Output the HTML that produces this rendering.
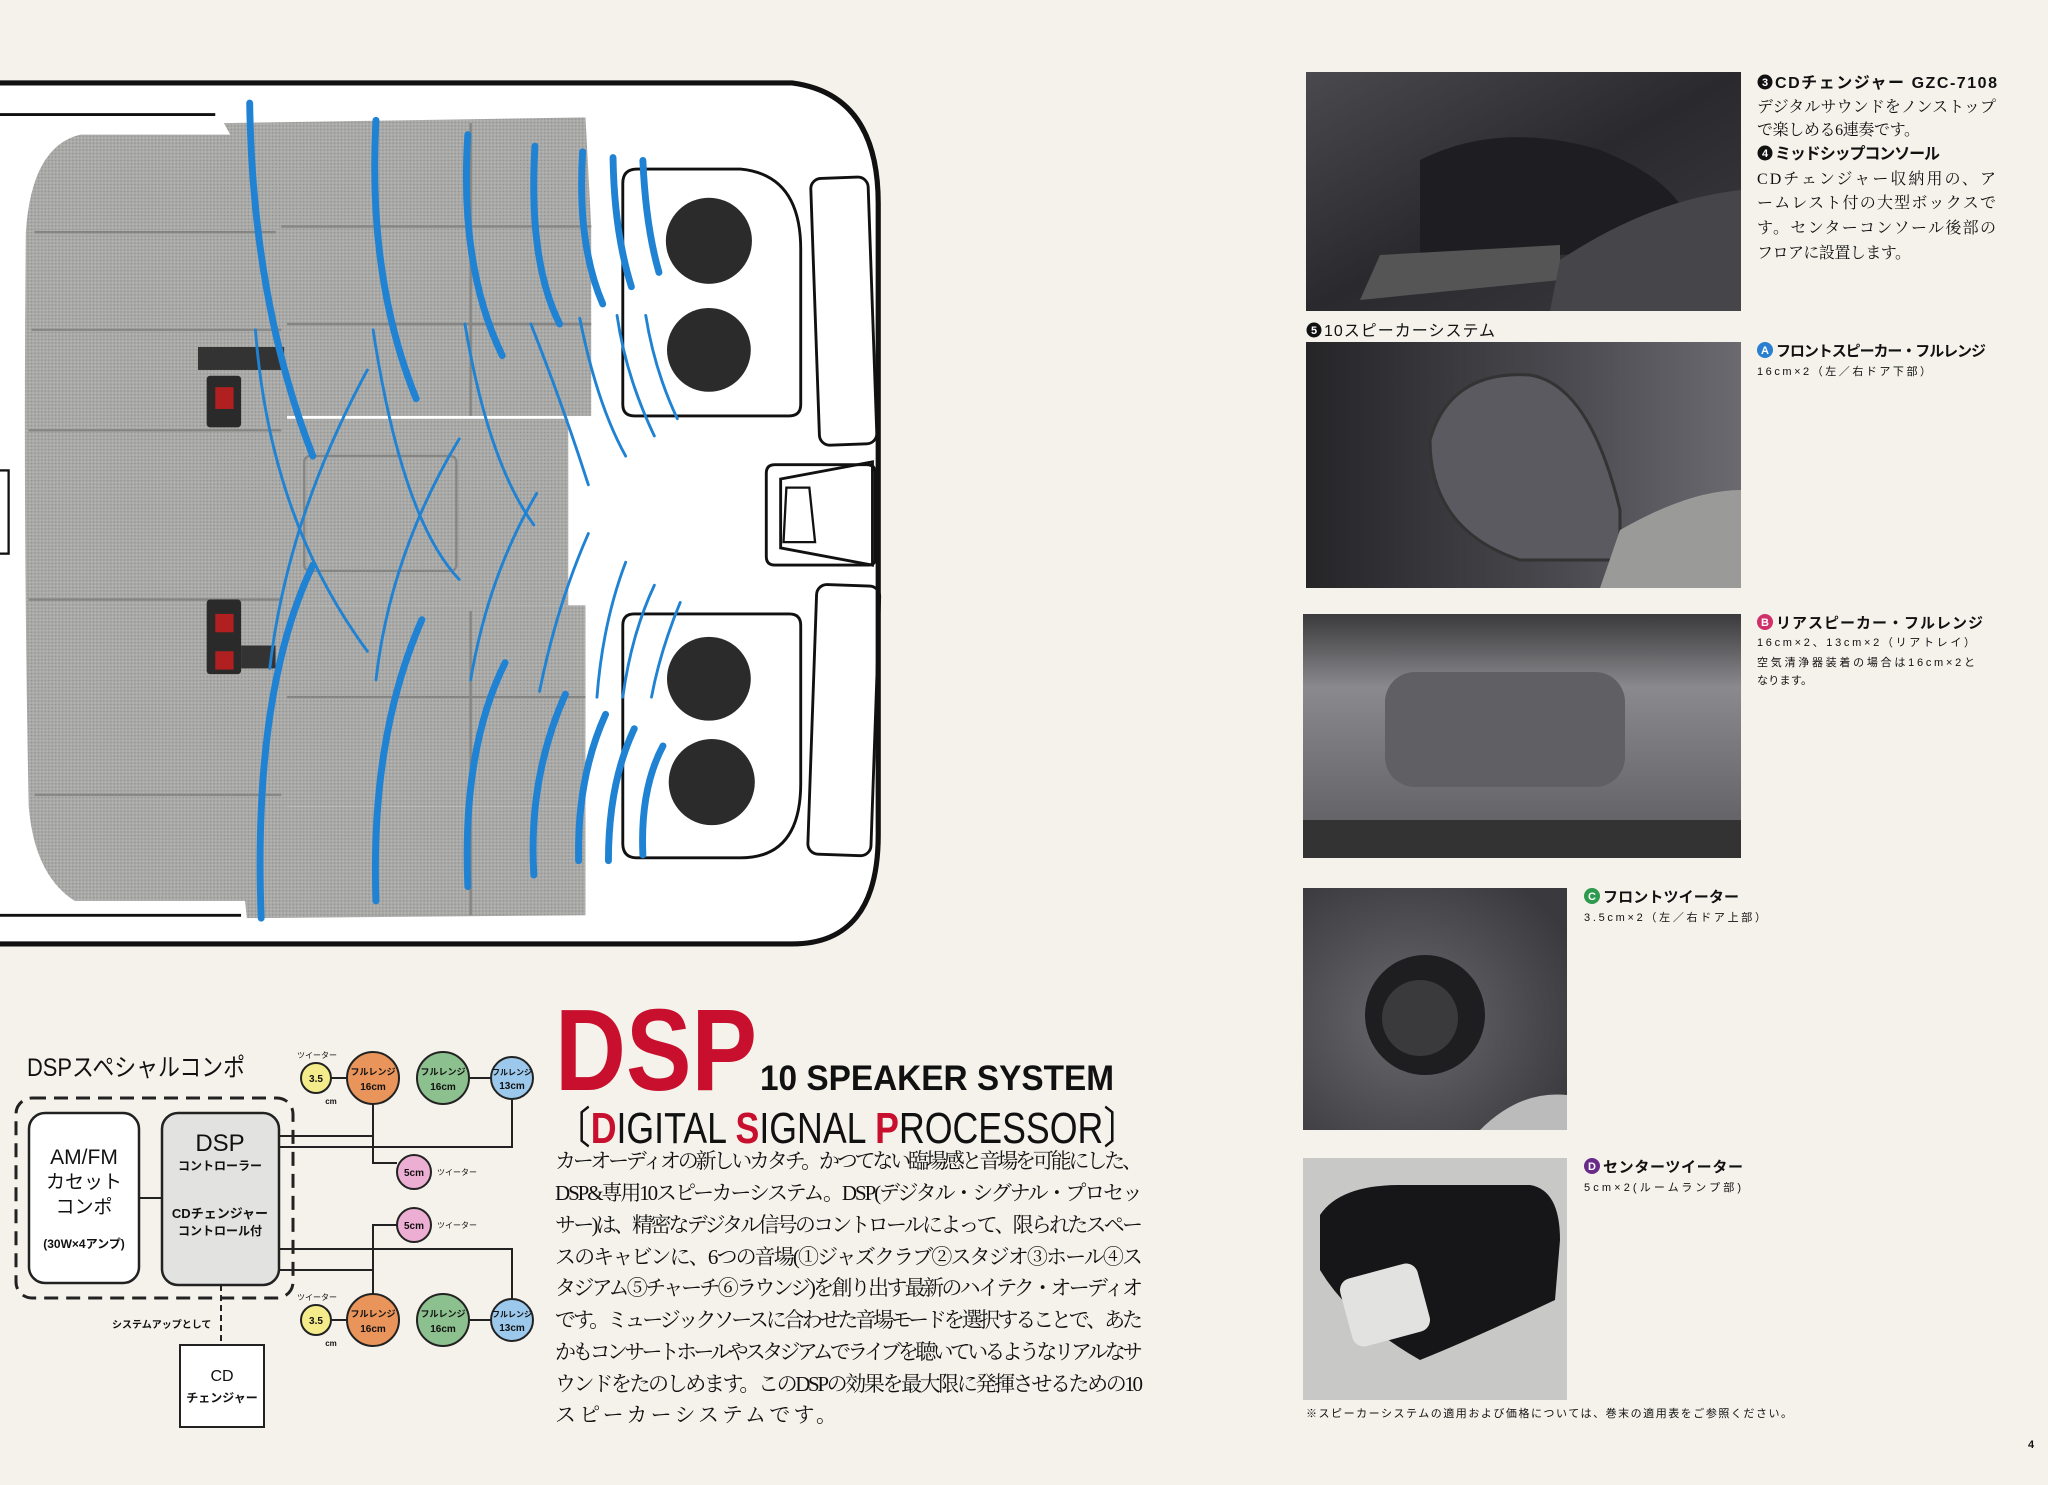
<!DOCTYPE html>
<html><head><meta charset="utf-8"><style>
html,body{margin:0;padding:0;background:#f4f2eb;}
svg{display:block}
.g{font-family:"Liberation Sans","Noto Sans CJK JP",sans-serif;}
.s{font-family:"Liberation Serif","Noto Serif CJK SC",serif;}
</style></head><body>
<svg width="2048" height="1485" viewBox="0 0 2048 1485" xmlns="http://www.w3.org/2000/svg">
<defs>
<pattern id="dots" width="6" height="6" patternUnits="userSpaceOnUse">
<rect width="6" height="6" fill="#a9a9a7"/>
<rect x="0" y="0" width="2" height="2" fill="#8e8e8c"/>
<rect x="3" y="3" width="2" height="2" fill="#bdbdbb"/>
</pattern>
<linearGradient id="p1" x1="0" y1="0" x2="1" y2="1"><stop offset="0" stop-color="#4a4a4e"/><stop offset="0.5" stop-color="#2a2a2e"/><stop offset="1" stop-color="#3c3c40"/></linearGradient>
<linearGradient id="p2" x1="0" y1="0" x2="1" y2="0"><stop offset="0" stop-color="#252528"/><stop offset="0.6" stop-color="#4a4a50"/><stop offset="1" stop-color="#6a6a70"/></linearGradient>
<linearGradient id="p3" x1="0" y1="0" x2="0" y2="1"><stop offset="0" stop-color="#3a3a3c"/><stop offset="0.3" stop-color="#8a8a8e"/><stop offset="1" stop-color="#5a5a5e"/></linearGradient>
<radialGradient id="p4" cx="0.4" cy="0.55" r="0.7"><stop offset="0" stop-color="#6a6a6e"/><stop offset="1" stop-color="#3a3a3e"/></radialGradient>
</defs>

<!-- CAR DIAGRAM -->
<g transform="translate(0,60) scale(0.574)">
<path d="M0,40 L1380,40 Q1530,60 1530,250 L1530,1350 Q1530,1540 1380,1540 L0,1540 Z" fill="#fff"/>
<path d="M0,40 L1380,40 Q1530,60 1530,250 L1530,1350 Q1530,1540 1380,1540 L0,1540" fill="none" stroke="#111" stroke-width="9"/>
<line x1="0" y1="95" x2="375" y2="95" stroke="#111" stroke-width="5"/>
<line x1="0" y1="1490" x2="420" y2="1490" stroke="#111" stroke-width="5"/>
<rect x="-5" y="715" width="20" height="145" fill="none" stroke="#111" stroke-width="4"/>
<!-- seats -->
<g fill="url(#dots)">
<path d="M140,130 L470,130 L500,200 L500,1420 L470,1465 L130,1465 Q60,1420 50,1300 Q40,800 45,300 Q55,150 140,130 Z"/>
<path d="M390,110 L1020,100 L1030,290 L490,290 Z"/>
<rect x="490" y="290" width="540" height="330"/>
<rect x="490" y="625" width="500" height="325"/>
<rect x="490" y="950" width="530" height="350"/>
<path d="M410,1300 L1020,1300 L1020,1490 L430,1495 Z"/>
</g>
<g stroke="#858583" stroke-width="4" fill="none">
<path d="M60,300 L480,300 M55,470 L490,470 M50,645 L490,645 M50,940 L490,940 M60,1280 L490,1280"/>
<rect x="530" y="690" width="265" height="200" rx="10"/>
<path d="M490,290 L1030,290 M500,460 L1030,460 M500,1110 L1020,1110 M820,110 L820,620 M820,960 L820,1490"/>
</g>
<rect x="345" y="500" width="150" height="40" fill="#333"/>
<rect x="360" y="550" width="60" height="90" rx="6" fill="#2a2a2a"/><rect x="375" y="570" width="32" height="38" fill="#b02020"/>
<rect x="360" y="940" width="60" height="130" rx="6" fill="#2a2a2a"/><rect x="375" y="965" width="32" height="32" fill="#b02020"/><rect x="375" y="1030" width="32" height="32" fill="#b02020"/>
<rect x="420" y="1020" width="60" height="40" fill="#333"/>
<!-- speaker boxes -->
<g fill="none" stroke="#111" stroke-width="5">
<path d="M1110,190 L1290,190 Q1395,200 1395,330 L1395,600 Q1395,620 1375,620 L1105,620 Q1085,620 1085,600 L1085,215 Q1085,190 1110,190 Z"/>
<path d="M1105,965 L1375,965 Q1395,965 1395,985 L1395,1260 Q1395,1390 1290,1390 L1110,1390 Q1085,1390 1085,1365 L1085,985 Q1085,965 1105,965 Z"/>
<rect x="1420" y="205" width="100" height="465" rx="18" transform="rotate(-2 1470 437)"/>
<rect x="1415" y="915" width="110" height="470" rx="18" transform="rotate(2 1470 1150)"/>
<path d="M1350,705 L1510,705 Q1525,705 1525,720 L1525,870 Q1525,880 1510,880 L1350,880 Q1335,880 1335,865 L1335,720 Q1335,705 1350,705 Z"/>
<path d="M1360,730 L1520,700 L1520,880 L1360,850 Z"/>
<path d="M1370,745 L1410,745 L1420,840 L1365,840 Z" stroke-width="4"/>
</g>
<circle cx="1235" cy="315" r="75" fill="#2b2b2b"/>
<circle cx="1235" cy="505" r="73" fill="#2b2b2b"/>
<circle cx="1235" cy="1078" r="73" fill="#2b2b2b"/>
<circle cx="1240" cy="1258" r="75" fill="#2b2b2b"/>
<!-- sound waves -->
<g fill="none" stroke="#1f82d2" stroke-width="12" stroke-linecap="round">
<path d="M435,75 Q440,420 545,690"/><path d="M655,105 Q640,380 725,590"/><path d="M815,130 Q800,360 875,515"/>
<path d="M932,150 Q920,350 975,460"/><path d="M1015,160 Q1005,320 1050,425"/><path d="M1068,170 Q1070,300 1100,395"/><path d="M1120,175 Q1125,290 1148,370"/>
<path d="M455,1495 Q440,1100 545,880"/><path d="M655,1465 Q645,1180 735,975"/><path d="M815,1440 Q805,1200 880,1050"/>
<path d="M930,1420 Q920,1250 985,1105"/><path d="M1008,1395 Q1005,1250 1055,1140"/><path d="M1060,1395 Q1060,1260 1105,1165"/><path d="M1120,1385 Q1115,1270 1155,1195"/>
</g>
<g fill="none" stroke="#1f82d2" stroke-width="5" stroke-linecap="round">
<path d="M445,470 Q470,800 640,1030"/><path d="M640,540 Q500,800 470,1060"/><path d="M650,470 Q700,800 800,905"/><path d="M800,660 Q680,860 655,1080"/>
<path d="M810,460 Q850,700 930,810"/><path d="M935,755 Q850,900 820,1080"/><path d="M925,460 Q980,600 1025,740"/><path d="M1025,825 Q970,950 940,1100"/>
<path d="M1010,450 Q1040,600 1090,690"/><path d="M1090,875 Q1050,980 1040,1110"/><path d="M1075,445 Q1090,550 1140,655"/><path d="M1140,915 Q1100,1000 1085,1110"/>
<path d="M1125,445 Q1140,540 1180,625"/><path d="M1185,945 Q1150,1030 1135,1110"/>
</g>
</g>

<!-- BLOCK DIAGRAM -->
<g class="g" fill="#111">
<text x="27" y="1076" font-size="25" textLength="218" lengthAdjust="spacingAndGlyphs">DSPスペシャルコンポ</text>
<rect x="16" y="1098" width="277" height="200" rx="16" fill="none" stroke="#222" stroke-width="3" stroke-dasharray="14,8"/>
<rect x="29" y="1113" width="110" height="170" rx="16" fill="#fff" stroke="#222" stroke-width="2.5"/>
<rect x="162" y="1113" width="117" height="172" rx="16" fill="#e2e2e0" stroke="#222" stroke-width="2.5"/>
<text x="84" y="1164" font-size="21" text-anchor="middle">AM/FM</text>
<text x="84" y="1188" font-size="19" text-anchor="middle">カセット</text>
<text x="84" y="1213" font-size="19" text-anchor="middle">コンポ</text>
<text x="84" y="1248" font-size="12" text-anchor="middle" font-weight="bold">(30W×4アンプ)</text>
<text x="220" y="1151" font-size="24" text-anchor="middle">DSP</text>
<text x="220" y="1170" font-size="12" text-anchor="middle" font-weight="bold">コントローラー</text>
<text x="220" y="1218" font-size="13" text-anchor="middle" font-weight="bold">CDチェンジャー</text>
<text x="220" y="1235" font-size="12" text-anchor="middle" font-weight="bold">コントロール付</text>
<g stroke="#222" stroke-width="2" fill="none">
<path d="M139,1198 H162"/>
<path d="M279,1136 H373 M373,1104 V1163 H397"/>
<path d="M279,1147 H512 V1100"/>
<path d="M331,1078 H347 M469,1078 H491"/>
<path d="M397,1225 H373 V1294"/>
<path d="M279,1249 H512 V1299"/>
<path d="M279,1270 H373"/>
<path d="M331,1320 H347 M469,1320 H491"/>
<path d="M221,1285 V1345" stroke-dasharray="6,4"/>
</g>
<rect x="180" y="1345" width="84" height="82" fill="#fff" stroke="#222" stroke-width="2"/>
<text x="222" y="1381" font-size="16" text-anchor="middle">CD</text>
<text x="222" y="1402" font-size="12" text-anchor="middle" font-weight="bold">チェンジャー</text>
<text x="112" y="1328" font-size="10" font-weight="bold">システムアップとして</text>
<g stroke="#222" stroke-width="2">
<circle cx="316" cy="1078" r="15" fill="#f4ec8a"/>
<circle cx="373" cy="1078" r="26" fill="#e8945a"/>
<circle cx="443" cy="1078" r="26" fill="#8cc08e"/>
<circle cx="512" cy="1078" r="21" fill="#9cc8ec"/>
<circle cx="414" cy="1172" r="17" fill="#ecaed2"/>
<circle cx="414" cy="1225" r="17" fill="#ecaed2"/>
<circle cx="316" cy="1320" r="15" fill="#f4ec8a"/>
<circle cx="373" cy="1320" r="26" fill="#e8945a"/>
<circle cx="443" cy="1320" r="26" fill="#8cc08e"/>
<circle cx="512" cy="1320" r="21" fill="#9cc8ec"/>
</g>
<g font-size="10" font-weight="bold" text-anchor="middle">
<text x="316" y="1082">3.5</text><text x="316" y="1324">3.5</text>
<text x="373" y="1075" font-size="9">フルレンジ</text><text x="373" y="1090">16cm</text>
<text x="443" y="1075" font-size="9">フルレンジ</text><text x="443" y="1090">16cm</text>
<text x="512" y="1075" font-size="8">フルレンジ</text><text x="512" y="1089">13cm</text>
<text x="373" y="1317" font-size="9">フルレンジ</text><text x="373" y="1332">16cm</text>
<text x="443" y="1317" font-size="9">フルレンジ</text><text x="443" y="1332">16cm</text>
<text x="512" y="1317" font-size="8">フルレンジ</text><text x="512" y="1331">13cm</text>
<text x="414" y="1176">5cm</text><text x="414" y="1229">5cm</text>
<text x="331" y="1104" font-size="8">cm</text><text x="331" y="1346" font-size="8">cm</text>
</g>
<g font-size="8">
<text x="297" y="1058">ツイーター</text><text x="297" y="1300">ツイーター</text>
<text x="437" y="1175">ツイーター</text><text x="437" y="1228">ツイーター</text>
</g>
</g>

<!-- DSP HEADING & BODY -->
<text x="555" y="1090" class="g" font-size="116" font-weight="bold" fill="#c8102e" textLength="202" lengthAdjust="spacingAndGlyphs">DSP</text>
<text x="760" y="1090" class="g" font-size="35" font-weight="bold" fill="#111" textLength="354" lengthAdjust="spacingAndGlyphs">10 SPEAKER SYSTEM</text>
<text x="555" y="1143" class="g" font-size="44" fill="#111" textLength="584" lengthAdjust="spacingAndGlyphs">〔<tspan fill="#c8102e" font-weight="bold">D</tspan>IGITAL <tspan fill="#c8102e" font-weight="bold">S</tspan>IGNAL <tspan fill="#c8102e" font-weight="bold">P</tspan>ROCESSOR〕</text>
<g class="s" font-size="21" fill="#111" lengthAdjust="spacingAndGlyphs">
<text x="555" y="1168" textLength="588">カーオーディオの新しいカタチ。かつてない臨場感と音場を可能にした、</text>
<text x="555" y="1200" textLength="588">DSP&amp;専用10スピーカーシステム。DSP(デジタル・シグナル・プロセッ</text>
<text x="555" y="1232" textLength="588">サー)は、精密なデジタル信号のコントロールによって、限られたスペー</text>
<text x="555" y="1264" textLength="588">スのキャビンに、6つの音場(①ジャズクラブ②スタジオ③ホール④ス</text>
<text x="555" y="1295" textLength="588">タジアム⑤チャーチ⑥ラウンジ)を創り出す最新のハイテク・オーディオ</text>
<text x="555" y="1327" textLength="588">です。ミュージックソースに合わせた音場モードを選択することで、あた</text>
<text x="555" y="1359" textLength="588">かもコンサートホールやスタジアムでライブを聴いているようなリアルなサ</text>
<text x="555" y="1391" textLength="588">ウンドをたのしめます。このDSPの効果を最大限に発揮させるための10</text>
<text x="555" y="1422" textLength="282">スピーカーシステムです。</text>
</g>

<!-- PHOTOS -->
<rect x="1306" y="72" width="435" height="239" fill="url(#p1)"/>
<path d="M1420,160 Q1500,120 1600,150 Q1700,190 1690,250 L1420,260 Z" fill="#1e1e22"/>
<path d="M1360,300 L1380,255 L1560,245 L1560,280 Z" fill="#555"/>
<path d="M1560,260 Q1650,200 1741,190 L1741,311 L1550,311 Z" fill="#46464a"/>
<rect x="1306" y="342" width="435" height="246" fill="url(#p2)"/>
<path d="M1430,440 Q1450,370 1530,375 Q1590,385 1620,510 L1620,560 L1520,560 Q1430,530 1430,440 Z" fill="#5a5a60" stroke="#333" stroke-width="3"/>
<path d="M1620,530 Q1690,490 1741,490 L1741,588 L1600,588 Z" fill="#9a9a98"/>
<rect x="1303" y="614" width="438" height="244" fill="url(#p3)"/>
<rect x="1385" y="672" width="240" height="115" rx="30" fill="#606064"/>
<rect x="1303" y="820" width="438" height="38" fill="#333"/>
<rect x="1303" y="888" width="264" height="242" fill="url(#p4)"/>
<circle cx="1425" cy="1015" r="60" fill="#1e1e20"/><circle cx="1420" cy="1018" r="38" fill="#3a3a3c"/>
<path d="M1480,1130 Q1520,1090 1567,1095 L1567,1130 Z" fill="#bbb"/>
<rect x="1303" y="1158" width="264" height="242" fill="#c8c8c6"/>
<path d="M1320,1215 Q1340,1185 1400,1185 L1530,1185 Q1560,1190 1560,1240 L1555,1300 Q1470,1340 1420,1360 Q1350,1320 1320,1270 Z" fill="#161618"/>
<rect x="1345" y="1270" width="80" height="70" rx="12" fill="#e2e2e0" transform="rotate(-15 1385 1305)"/>

<!-- RIGHT TEXT -->
<g class="g" fill="#111" lengthAdjust="spacingAndGlyphs">
<circle cx="1765" cy="82" r="7.5" fill="#111"/><text x="1765" y="86" font-size="11" fill="#fff" text-anchor="middle" font-weight="bold">3</text>
<text x="1775" y="88" font-size="16" font-weight="bold" textLength="222">CDチェンジャー GZC-7108</text>
<text x="1757" y="112" class="s" font-size="16" textLength="239">デジタルサウンドをノンストップ</text>
<text x="1757" y="135" class="s" font-size="16" textLength="163">で楽しめる6連奏です。</text>
<circle cx="1765" cy="153" r="7.5" fill="#111"/><text x="1765" y="157" font-size="11" fill="#fff" text-anchor="middle" font-weight="bold">4</text>
<text x="1775" y="159" font-size="16" font-weight="bold" textLength="165">ミッドシップコンソール</text>
<text x="1757" y="184" class="s" font-size="16" textLength="239">CDチェンジャー収納用の、ア</text>
<text x="1757" y="208" class="s" font-size="16" textLength="239">ームレスト付の大型ボックスで</text>
<text x="1757" y="233" class="s" font-size="16" textLength="239">す。センターコンソール後部の</text>
<text x="1757" y="258" class="s" font-size="16" textLength="154">フロアに設置します。</text>

<circle cx="1314" cy="330" r="7.5" fill="#111"/><text x="1314" y="334" font-size="11" fill="#fff" text-anchor="middle" font-weight="bold">5</text>
<text x="1324" y="336" font-size="16" textLength="171">10スピーカーシステム</text>

<circle cx="1765" cy="350" r="8" fill="#2a7fd0"/><text x="1765" y="354" font-size="11" fill="#fff" text-anchor="middle" font-weight="bold">A</text>
<text x="1776" y="356" font-size="15" font-weight="bold" textLength="210">フロントスピーカー・フルレンジ</text>
<text x="1757" y="375" font-size="11" textLength="174">16cm×2（左／右ドア下部）</text>

<circle cx="1765" cy="622" r="8" fill="#d0306a"/><text x="1765" y="626" font-size="11" fill="#fff" text-anchor="middle" font-weight="bold">B</text>
<text x="1776" y="628" font-size="15" font-weight="bold" textLength="207">リアスピーカー・フルレンジ</text>
<text x="1757" y="646" font-size="11" textLength="218">16cm×2、13cm×2（リアトレイ）</text>
<text x="1757" y="666" font-size="11" textLength="218">空気清浄器装着の場合は16cm×2と</text>
<text x="1757" y="684" font-size="11" textLength="55">なります。</text>

<circle cx="1592" cy="896" r="8" fill="#2e9a4e"/><text x="1592" y="900" font-size="11" fill="#fff" text-anchor="middle" font-weight="bold">C</text>
<text x="1603" y="902" font-size="15" font-weight="bold" textLength="136">フロントツイーター</text>
<text x="1584" y="921" font-size="11" textLength="182">3.5cm×2（左／右ドア上部）</text>

<circle cx="1592" cy="1166" r="8" fill="#6a2a8a"/><text x="1592" y="1170" font-size="11" fill="#fff" text-anchor="middle" font-weight="bold">D</text>
<text x="1603" y="1172" font-size="15" font-weight="bold" textLength="140">センターツイーター</text>
<text x="1584" y="1191" font-size="11" textLength="157">5cm×2(ルームランプ部)</text>

<text x="1306" y="1417" font-size="11" textLength="486">※スピーカーシステムの適用および価格については、巻末の適用表をご参照ください。</text>
<text x="2028" y="1448" font-size="11" font-weight="bold">4</text>
</g>
</svg>
</body></html>
